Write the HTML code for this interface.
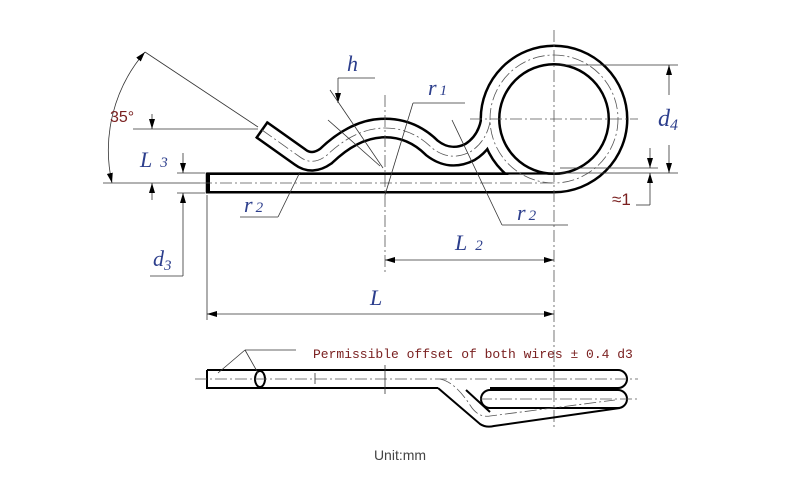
<!DOCTYPE html>
<html><head><meta charset="utf-8"><style>
html,body{margin:0;padding:0;background:#fff;}
svg{display:block;}
.t{font-family:"Liberation Serif",serif;font-style:italic;fill:#2c3e8c;}
.r{font-family:"Liberation Sans",sans-serif;fill:#7a2020;}
</style></head><body>
<svg width="800" height="491" viewBox="0 0 800 491" xmlns="http://www.w3.org/2000/svg">
<defs>
<marker id="a" viewBox="0 0 10 6" refX="10" refY="3" markerWidth="10" markerHeight="6" orient="auto-start-reverse" markerUnits="userSpaceOnUse"><path d="M0,0 L10,3 L0,6z" fill="#000"/></marker>
</defs>
<g fill="none" stroke="#000" stroke-width="21">
<path d="M262,130 L300,157 Q312,166 326,156 Q355,128 385,128 Q412,128 432,148 Q450,162 470,152 Q486,142 490,122"/>
<circle cx="554" cy="119" r="64"/>
<path d="M208,183 L554,183"/>
</g>
<g fill="none" stroke="#fff" stroke-width="16">
<path d="M262,130 L300,157 Q312,166 326,156 Q355,128 385,128 Q412,128 432,148 Q450,162 470,152 Q486,142 490,122"/>
<circle cx="554" cy="119" r="64"/>
<path d="M210,183 L554,183"/>
</g>
<line x1="207" y1="173.5" x2="554" y2="173.5" stroke="#000" stroke-width="2.2"/>
<line x1="207" y1="172.5" x2="207" y2="193.5" stroke="#000" stroke-width="2.5"/>
<line x1="268" y1="121.5" x2="256" y2="138.5" stroke="#000" stroke-width="2.5"/>
<g fill="none" stroke="#555" stroke-width="0.8" stroke-dasharray="12,3,2,3">
<path d="M262,130 L300,157 Q312,166 326,156 Q355,128 385,128 Q412,128 432,148 Q450,162 470,152 Q486,142 490,122"/>
<circle cx="554" cy="119" r="64"/>
<path d="M200,183 L554,183"/>
<line x1="470" y1="119" x2="638" y2="119"/>
<line x1="554" y1="30" x2="554" y2="430"/>
<line x1="385" y1="95" x2="385" y2="272"/>
</g>
<g stroke="#333" stroke-width="0.8" fill="none">
<path d="M112,183 A150,150 0 0 1 145,52" marker-start="url(#a)" marker-end="url(#a)"/>
<line x1="145" y1="52" x2="258" y2="127"/>
<line x1="133" y1="129" x2="258" y2="129"/>
<line x1="103" y1="183" x2="200" y2="183"/>
<line x1="152" y1="114" x2="152" y2="129" marker-end="url(#a)"/>
<line x1="152" y1="200" x2="152" y2="183" marker-end="url(#a)"/>
<line x1="177" y1="173" x2="205" y2="173"/>
<line x1="177" y1="193" x2="205" y2="193"/>
<line x1="183" y1="153" x2="183" y2="173" marker-end="url(#a)"/>
<line x1="183" y1="276" x2="183" y2="193" marker-end="url(#a)"/>
<line x1="150" y1="276" x2="183" y2="276"/>
<line x1="207" y1="195" x2="207" y2="320"/>
<line x1="207" y1="314" x2="554" y2="314" marker-start="url(#a)" marker-end="url(#a)"/>
<line x1="385" y1="260" x2="554" y2="260" marker-start="url(#a)" marker-end="url(#a)"/>
<line x1="338" y1="78" x2="375" y2="78"/>
<line x1="338" y1="78" x2="338" y2="103" marker-end="url(#a)"/>
<line x1="330" y1="90" x2="383" y2="168"/>
<line x1="328" y1="120" x2="380" y2="166"/>
<line x1="413" y1="103" x2="465" y2="103"/>
<line x1="413" y1="103" x2="385" y2="195"/>
<line x1="502" y1="225" x2="568" y2="225"/>
<line x1="502" y1="225" x2="452" y2="120"/>
<line x1="240" y1="217" x2="278" y2="217"/>
<line x1="278" y1="217" x2="300" y2="172"/>
<line x1="560" y1="65" x2="678" y2="65"/>
<line x1="560" y1="173" x2="678" y2="173"/>
<line x1="560" y1="168" x2="658" y2="168"/>
<line x1="669" y1="95" x2="669" y2="65" marker-end="url(#a)"/>
<line x1="669" y1="145" x2="669" y2="173" marker-end="url(#a)"/>
<line x1="650" y1="148" x2="650" y2="168" marker-end="url(#a)"/>
<line x1="650" y1="205" x2="650" y2="173" marker-end="url(#a)"/>
<line x1="636" y1="205" x2="650" y2="205"/>
</g>
<text x="110" y="122" class="r" font-size="16">35°</text>
<text x="347" y="71" class="t" font-size="22">h</text>
<text x="428" y="95" class="t" font-size="22">r<tspan font-size="15" dx="3">1</tspan></text>
<text x="658" y="126" class="t" font-size="24">d<tspan font-size="16" dy="4">4</tspan></text>
<text x="140" y="167" class="t" font-size="22">L<tspan font-size="15" dx="8">3</tspan></text>
<text x="153" y="266" class="t" font-size="22">d<tspan font-size="15" dy="4">3</tspan></text>
<text x="244" y="212" class="t" font-size="22">r<tspan font-size="15" dx="3">2</tspan></text>
<text x="517" y="220" class="t" font-size="22">r<tspan font-size="15" dx="3">2</tspan></text>
<text x="455" y="250" class="t" font-size="22">L<tspan font-size="15" dx="8">2</tspan></text>
<text x="370" y="305" class="t" font-size="22">L</text>
<text x="612" y="205" class="r" font-size="17">≈1</text>
<g fill="none" stroke="#000" stroke-width="2">
<path d="M207,370 L618,370 A9,9 0 0 1 618,388 L490,388"/>
<path d="M207,370 L207,388 L438,388"/>
<path d="M490,390 L618,390 A9,9 0 0 1 618,408 L490,408 A9,9 0 0 1 490,390"/>
<path d="M438,388 L480,424 Q486,428 494,426 L620,408"/>
<path d="M466,390 L490,412"/>
<ellipse cx="260" cy="379" rx="5" ry="8"/>
</g>
<g fill="none" stroke="#555" stroke-width="0.8" stroke-dasharray="12,3,2,3">
<line x1="195" y1="379" x2="638" y2="379"/>
<line x1="480" y1="399" x2="638" y2="399"/>
<path d="M440,379 Q455,382 470,405 Q478,418 490,416 L615,400"/>
</g>
<g stroke="#333" stroke-width="0.8">
<line x1="245" y1="350" x2="296" y2="350"/>
<line x1="245" y1="350" x2="218" y2="373"/>
<line x1="245" y1="350" x2="258" y2="373"/>
<line x1="315" y1="373" x2="315" y2="384"/>
<line x1="385" y1="365" x2="385" y2="394"/>
</g>
<text x="313" y="358" font-family="Liberation Mono,monospace" font-size="13" fill="#7a2020">Permissible offset of both wires ± 0.4 d3</text>
<text x="400" y="460" text-anchor="middle" font-family="Liberation Sans,sans-serif" font-size="14" fill="#444">Unit:mm</text>
</svg>
</body></html>
